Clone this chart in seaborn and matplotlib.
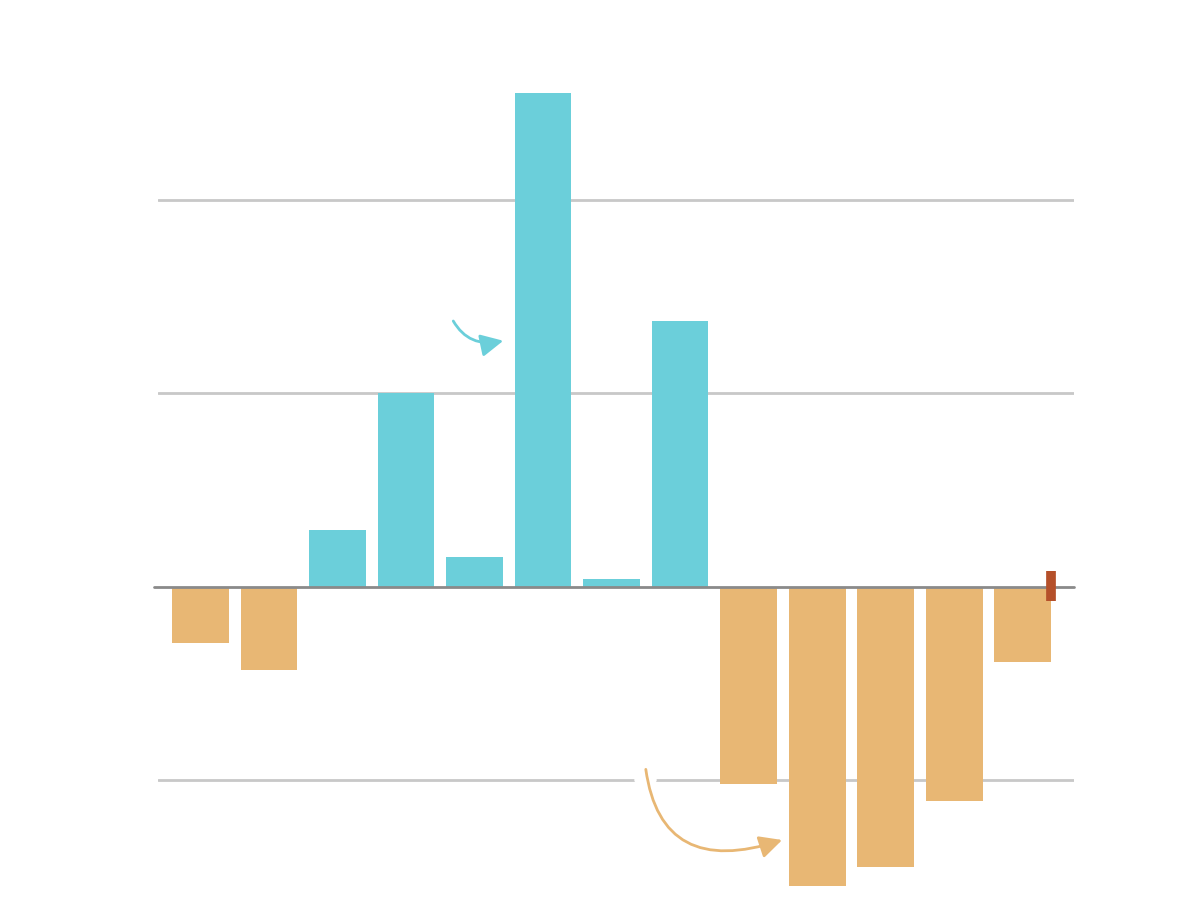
import matplotlib
matplotlib.use("Agg")
import matplotlib.pyplot as plt
import seaborn as sns
import pandas as pd

# values (one grid step = 1 unit)
positions = list(range(13))
values = [-0.29, -0.43, 0.29, 1.0, 0.15, 2.55, 0.04, 1.37, -1.02, -1.55, -1.45, -1.11, -0.39]
gridlines = [-1, 1, 2]

teal = "#6BCFDA"
orange = "#E8B774"
red = "#B5502A"

df = pd.DataFrame({"pos": positions, "value": values})
df["sign"] = ["up" if v >= 0 else "down" for v in values]

sns.set_style("white")
fig = plt.figure(figsize=(12, 9.14), dpi=100)
ax = fig.add_axes([158 / 1200, 0, 916 / 1200, 1])

sns.barplot(data=df, x="pos", y="value", hue="sign", palette={"up": teal, "down": orange},
            dodge=False, width=0.83, saturation=1, legend=False, ax=ax, zorder=2, linewidth=0)

for g in gridlines:
    ax.axhline(g, color="#c8c8c8", lw=2, zorder=1)
# small gap in the bottom gridline where the arrow starts
ax.plot([6.37, 6.62], [-1, -1], color="white", lw=4, zorder=1.5)
ax.axhline(0, color="#8a8a8a", lw=2, zorder=3, xmin=-0.004, clip_on=False)

# red marker at the end of the series
ax.plot([12.42, 12.42], [-0.075, 0.08], color=red, lw=7, solid_capstyle="butt", zorder=4)

ax.annotate("", xy=(4.42, 1.27), xytext=(3.69, 1.372),
            arrowprops=dict(arrowstyle="-|>", color=teal, lw=2, mutation_scale=34,
                            shrinkA=0, shrinkB=0,
                            connectionstyle="angle3,angleA=-60,angleB=12"))
ax.annotate("", xy=(8.49, -1.31), xytext=(6.5, -0.945),
            arrowprops=dict(arrowstyle="-|>", color=orange, lw=2, mutation_scale=34,
                            shrinkA=0, shrinkB=0,
                            connectionstyle="angle3,angleA=-82,angleB=18"))

ax.set_xlim(-0.62, 12.75)
ax.set_ylim((586.5 - 914) / 193.5, 586.5 / 193.5)
ax.set_xticks([])
ax.set_yticks([])
ax.set_xlabel("")
ax.set_ylabel("")
sns.despine(ax=ax, left=True, bottom=True)

fig.savefig("out.png", dpi=100, facecolor="white")
